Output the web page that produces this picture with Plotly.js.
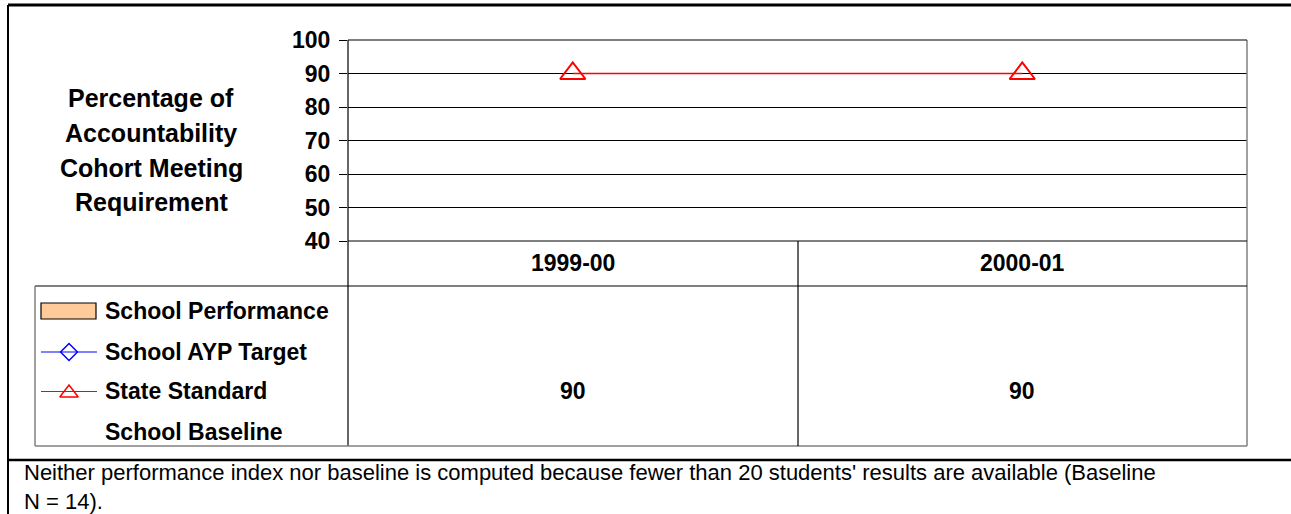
<!DOCTYPE html>
<html>
<head>
<meta charset="utf-8">
<script src="https://cdn.plot.ly/plotly-3.0.1.min.js"></script>
<style>html,body{margin:0;padding:0;background:#fff;}#chart{width:1291px;height:514px;}</style>
</head>
<body>
<div id="chart"></div>
<script>
// ---- data ----
const categories = ['1999-00', '2000-01'];
const schoolPerformance = [null, null];
const aypTarget = [null, null];
const stateStandard = [90, 90];
const schoolBaseline = [null, null];
const yTickValues = [40, 50, 60, 70, 80, 90, 100];
const seriesNames = ['School Performance', 'School AYP Target', 'State Standard', 'School Baseline'];
const yTitleLines = ['Percentage of', 'Accountability', 'Cohort Meeting', 'Requirement'];
const footnoteLines = ["Neither performance index nor baseline is computed because fewer than 20 students' results are available (Baseline", "N = 14)."];

// ---- layout helpers (pixel geometry) ----
const W = 1291, H = 514;
const plotL = 348, plotR = 1247, plotT = 40, plotB = 241;
const headB = 286, tableB = 446, colDiv = 798, legL = 35;
const FONT = '"Liberation Sans", Arial, sans-serif';

const traces = [
  {type: 'bar', name: seriesNames[0], x: categories, y: schoolPerformance,
   marker: {color: '#FFCC99', line: {color: '#000', width: 1}}, showlegend: false, hoverinfo: 'skip'},
  {type: 'scatter', mode: 'lines+markers', name: seriesNames[1], x: categories, y: aypTarget,
   line: {color: '#0000FF', width: 1.5}, marker: {symbol: 'diamond-open', size: 13, color: '#0000FF', line: {width: 1.5}},
   showlegend: false},
  {type: 'scatter', mode: 'lines+markers', name: seriesNames[2], x: categories, y: stateStandard,
   line: {color: '#FF0000', width: 1.5}, marker: {symbol: 'triangle-up-open', size: 22, color: '#FF0000', line: {width: 2}},
   showlegend: false, cliponaxis: false},
  {type: 'scatter', mode: 'lines', name: seriesNames[3], x: categories, y: schoolBaseline,
   line: {color: '#000', width: 1.5}, showlegend: false},
  // legend keys on the pixel overlay
  {type: 'scatter', mode: 'markers', x: [69], y: [352], xaxis: 'x2', yaxis: 'y2',
   marker: {symbol: 'diamond-open', size: 13, color: '#0000FF', line: {width: 1.5}}, showlegend: false, hoverinfo: 'skip'},
  {type: 'scatter', mode: 'markers', x: [69], y: [393], xaxis: 'x2', yaxis: 'y2',
   marker: {symbol: 'triangle-up-open', size: 16, color: '#FF0000', line: {width: 1.5}}, showlegend: false, hoverinfo: 'skip'}
];

const shapes = [];
function ln(x0, y0, x1, y1, color, width) {
  shapes.push({type: 'line', xref: 'x2', yref: 'y2', x0, y0, x1, y1, line: {color, width}, layer: 'above'});
}
// outer border
ln(8, 5, W + 5, 5, '#000', 3);
ln(8, 5, 8, H + 5, '#000', 2);
ln(8, 460, W + 5, 460, '#000', 2.5);
// plot frame & table
ln(plotL, plotT, plotL, tableB, '#000', 1.2);
ln(plotR, plotT, plotR, tableB, '#808080', 1.5);
ln(plotL, plotT, plotR, plotT, '#000', 1.2);
ln(plotL, plotB, plotR, plotB, '#000', 1.2);
ln(legL, headB, plotR, headB, '#000', 1.2);
ln(legL, tableB, plotR, tableB, '#808080', 1.5);
ln(legL, headB, legL, tableB, '#808080', 1.5);
ln(colDiv, plotB, colDiv, tableB, '#000', 1.2);
// legend keys
shapes.push({type: 'rect', xref: 'x2', yref: 'y2', x0: 41, x1: 96, y0: 303, y1: 319,
  fillcolor: '#FFCC99', line: {color: '#000', width: 1.2}, layer: 'above'});
ln(41, 352, 97, 352, '#0000FF', 1.2);
ln(41, 391.5, 97, 391.5, '#FF0000', 1.2);

const annotations = [];
function txt(x, y, text, size, bold, xanchor, xref, align) {
  annotations.push({x, y, xref: xref || 'x2', yref: 'y2', text, showarrow: false,
    xanchor: xanchor || 'center', yanchor: 'middle', align: align || 'center',
    font: {family: FONT, size, color: '#000', weight: bold ? 'bold' : 'normal'}});
}
const titleYs = [98, 133, 168, 202];
yTitleLines.forEach((t, i) => txt(151, titleYs[i], t, 25, true));
const legYs = [311, 352, 391, 432];
seriesNames.forEach((t, i) => txt(103, legYs[i], t, 23, true, 'left'));
categories.forEach((c, i) => {
  txt(i, 263, c, 23, true, 'center', 'x');
  const v = stateStandard[i];
  txt(i, 391, v == null ? '' : String(v), 23, true, 'center', 'x');
});
// footnote as one wrapped text block
txt(22, 487, footnoteLines.join('<br>'), 22, false, 'left', 'x2', 'left');

const layout = {
  width: W, height: H,
  margin: {l: 0, r: 0, t: 0, b: 0},
  paper_bgcolor: '#fff', plot_bgcolor: 'rgba(0,0,0,0)',
  showlegend: false,
  font: {family: FONT, color: '#000'},
  xaxis: {domain: [plotL / W, plotR / W], type: 'category', range: [-0.5, 1.5],
    showticklabels: false, ticks: '', showgrid: false, zeroline: false, showline: false, fixedrange: true},
  yaxis: {domain: [1 - plotB / H, 1 - plotT / H], range: [40, 100], tickvals: yTickValues,
    ticks: 'outside', ticklen: 8, tickcolor: '#000', tickwidth: 1,
    showgrid: true, gridcolor: '#000', gridwidth: 1, zeroline: false, showline: false,
    tickfont: {family: FONT, size: 23, color: '#000', weight: 'bold'}, ticklabelstandoff: 4, fixedrange: true},
  xaxis2: {domain: [0, 1], range: [0, W], visible: false, anchor: 'y2', fixedrange: true},
  yaxis2: {domain: [0, 1], range: [H, 0], visible: false, anchor: 'x2', fixedrange: true},
  shapes, annotations,
  barmode: 'group'
};

Plotly.newPlot('chart', traces, layout, {displayModeBar: false, staticPlot: true});
</script>
</body>
</html>
